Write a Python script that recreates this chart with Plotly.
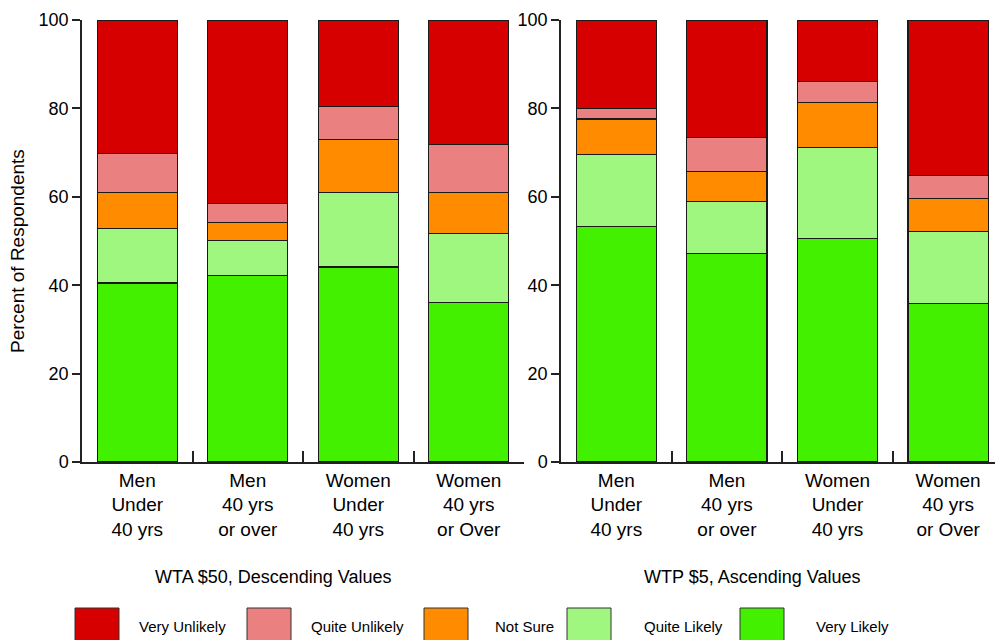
import plotly.graph_objects as go

categories = ["Men<br>Under<br>40 yrs", "Men<br>40 yrs<br>or over",
              "Women<br>Under<br>40 yrs", "Women<br>40 yrs<br>or Over"]
series_names = ["Very Likely", "Quite Likely", "Not Sure", "Quite Unlikely", "Very Unlikely"]
series_colors = ["#42F000", "#A0F780", "#FF8C00", "#EB8080", "#D70000"]

# WTA $50, Descending Values (percent)
wta_very_likely = [40.5, 42.2, 44.1, 36.0]
wta_quite_likely = [12.4, 7.9, 16.9, 15.7]
wta_not_sure = [8.1, 4.1, 11.9, 9.2]
wta_quite_unlikely = [8.8, 4.2, 7.6, 11.0]
wta_very_unlikely = [30.2, 41.6, 19.5, 28.1]

# WTP $5, Ascending Values (percent)
wtp_very_likely = [53.2, 47.1, 50.6, 35.9]
wtp_quite_likely = [16.3, 11.9, 20.6, 16.2]
wtp_not_sure = [8.1, 6.8, 10.2, 7.6]
wtp_quite_unlikely = [2.4, 7.6, 4.6, 5.2]
wtp_very_unlikely = [20.0, 26.6, 14.0, 35.1]

panel_titles = ["WTA $50, Descending Values", "WTP $5, Ascending Values"]
y_title = "Percent of Respondents"
y_ticks = [0, 20, 40, 60, 80, 100]

wta = [wta_very_likely, wta_quite_likely, wta_not_sure, wta_quite_unlikely, wta_very_unlikely]
wtp = [wtp_very_likely, wtp_quite_likely, wtp_not_sure, wtp_quite_unlikely, wtp_very_unlikely]

FONT = "Liberation Sans, Arial, sans-serif"
W, H = 995, 640
ML, MR, MT, MB = 82, 0, 20, 178
PW = W - ML - MR
PH = H - MT - MB

def px_x(p):
    return (p - ML) / PW

def px_y(p):
    return (H - MB - p) / PH

fig = go.Figure()
for data, xa, ya in [(wta, "x", "y"), (wtp, "x2", "y2")]:
    for name, color, vals in zip(series_names, series_colors, data):
        fig.add_trace(go.Bar(
            x=categories, y=vals, name=name, xaxis=xa, yaxis=ya,
            marker=dict(color=color, line=dict(color="#1a1a1a", width=1.2)),
            showlegend=False,
        ))

axis_common_x = dict(
    type="category", showline=True, linecolor="#222", linewidth=1.5,
    ticks="inside", tickson="boundaries", ticklen=11, tickcolor="#222", tickwidth=1.5,
    tickfont=dict(family=FONT, size=19, color="black"), showgrid=False, zeroline=False,
    fixedrange=True,
)
axis_common_y = dict(
    range=[0, 100], tickvals=y_ticks, showline=True, linecolor="#222", linewidth=1.5,
    ticks="outside", ticklen=8, tickcolor="#222", tickwidth=1.5,
    tickfont=dict(family=FONT, size=18, color="black"), showgrid=False, zeroline=False,
)

left_end = px_x(524)
right_start = px_x(561)

fig.update_layout(
    width=W, height=H,
    margin=dict(l=ML, r=MR, t=MT, b=MB),
    plot_bgcolor="white", paper_bgcolor="white",
    barmode="stack", bargap=0.276,
    xaxis=dict(domain=[0, left_end], range=[-0.5, 3.5], anchor="y", **axis_common_x),
    yaxis=dict(domain=[0, 1], anchor="x", **axis_common_y),
    xaxis2=dict(domain=[right_start, 1], range=[-0.5, 3.424], anchor="y2", **axis_common_x),
    yaxis2=dict(domain=[0, 1], anchor="x2", **axis_common_y),
    font=dict(family=FONT, color="black"),
)

annotations = [
    dict(text=y_title, x=px_x(18), y=px_y(251), xref="paper", yref="paper",
         textangle=-90, showarrow=False, font=dict(family=FONT, size=19, color="black"),
         xanchor="center", yanchor="middle"),
    dict(text=panel_titles[0], x=px_x(273), y=px_y(577), xref="paper", yref="paper",
         showarrow=False, font=dict(family=FONT, size=18, color="black"),
         xanchor="center", yanchor="middle"),
    dict(text=panel_titles[1], x=px_x(752), y=px_y(577), xref="paper", yref="paper",
         showarrow=False, font=dict(family=FONT, size=18, color="black"),
         xanchor="center", yanchor="middle"),
]

# Legend (drawn manually to match the large swatches)
legend_order = [4, 3, 2, 1, 0]
box_left = [75, 247, 424, 567, 740]
label_left = [137, 309, 493, 642, 814]
shapes = []
for i, idx in enumerate(legend_order):
    x0 = box_left[i]
    shapes.append(dict(type="rect", xref="paper", yref="paper",
                       x0=px_x(x0), x1=px_x(x0 + 44), y0=px_y(608), y1=px_y(648),
                       fillcolor=series_colors[idx], line=dict(color="#333", width=1)))
    annotations.append(dict(text=series_names[idx], x=px_x(label_left[i]), y=px_y(626),
                            xref="paper", yref="paper", showarrow=False,
                            xanchor="left", yanchor="middle",
                            font=dict(family=FONT, size=15, color="black")))

fig.update_layout(annotations=annotations, shapes=shapes)
fig.write_html("out.html", config={"displayModeBar": False},
               post_script="document.body.style.margin='0';document.body.style.overflow='hidden';")
